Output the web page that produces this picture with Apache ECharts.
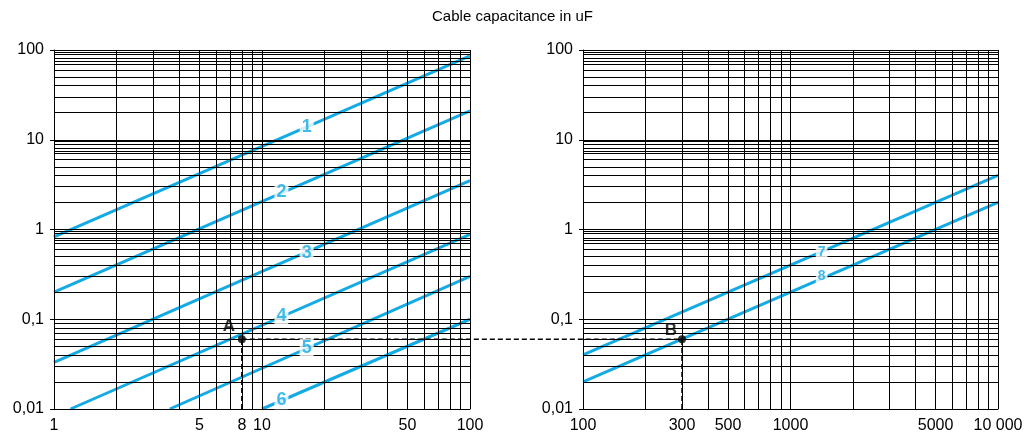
<!DOCTYPE html>
<html><head><meta charset="utf-8">
<script src="https://cdn.jsdelivr.net/npm/echarts@6/dist/echarts.min.js"></script>
<style>html,body{margin:0;padding:0;background:#fff}#c{width:1025px;height:436px}</style>
</head><body><div id="c"></div>
<script>
// ---------- data ----------
const chartTitle = 'Cable capacitance in uF';
const yTickValues = [0.01, 0.1, 1, 10, 100];
const yTickLabels = ['0,01', '0,1', '1', '10', '100'];
const leftXTickValues = [1, 5, 8, 10, 50, 100];
const leftXTickLabels = ['1', '5', '8', '10', '50', '100'];
const rightXTickValues = [100, 300, 500, 1000, 5000, 10000];
const rightXTickLabels = ['100', '300', '500', '1000', '5000', '10 000'];
const leftXGrid = [1, 2, 3, 4, 5, 6, 7, 8, 9, 10, 20, 30, 40, 50, 60, 70, 80, 90, 100];
const rightXGrid = [100, 200, 300, 400, 500, 600, 700, 800, 900, 1000, 2000, 3000, 4000, 5000, 6000, 7000, 8000, 9000, 10000];
const yGrid = [
  0.01, 0.02, 0.03, 0.04, 0.05, 0.06, 0.07, 0.075, 0.08, 0.09, 0.095,
  0.1, 0.2, 0.3, 0.4, 0.5, 0.6, 0.7, 0.75, 0.8, 0.9, 0.95,
  1, 2, 3, 4, 5, 6, 7, 7.5, 8, 9, 9.5,
  10, 20, 30, 40, 50, 60, 70, 75, 80, 90, 95, 100
];
// curves (cable length vs capacitance), endpoints
const curve1 = [[1, 0.83], [100, 86]];
const curve2 = [[1, 0.2], [100, 21]];
const curve3 = [[1, 0.033], [100, 3.5]];
const curve4 = [[1.2, 0.01], [100, 0.88]];
const curve5 = [[3.6, 0.01], [100, 0.3]];
const curve6 = [[10, 0.01], [100, 0.1]];
const curve7 = [[100, 0.04], [10000, 4]];
const curve8 = [[100, 0.02], [10000, 2]];
const leftCurveNames = ['1', '2', '3', '4', '5', '6'];
const rightCurveNames = ['7', '8'];
const leftCurveLabelAt = [[16.4, 14], [12.4, 2.6], [16.4, 0.55], [12.4, 0.11], [16.4, 0.048], [12.4, 0.0125]];
const rightCurveLabelAt = [[1413, 0.565], [1413, 0.3]];
const pointA = [8, 0.06];
const pointB = [300, 0.06];
const pointNames = ['A', 'B'];

// ---------- styling ----------
const FONT = '"Liberation Sans", Arial, sans-serif';
const BLUE = '#14AAE4';
const GRIDC = '#000';

function fmtY(v) {
  for (let i = 0; i < yTickValues.length; i++) {
    if (Math.abs(Math.log10(v) - Math.log10(yTickValues[i])) < 1e-6) return yTickLabels[i];
  }
  return '';
}

function gridMarkLine(xGrid, tickVals, tickLabels) {
  const data = [];
  xGrid.forEach(v => {
    const idx = tickVals.indexOf(v);
    data.push({
      xAxis: v,
      label: idx >= 0 ? {
        show: true, position: 'start', distance: 9, formatter: tickLabels[idx],
        color: '#000', fontSize: 16, fontFamily: FONT
      } : { show: false }
    });
  });
  yGrid.forEach(v => data.push({ yAxis: v, label: { show: false } }));
  return {
    silent: true, symbol: ['none', 'none'], animation: false,
    lineStyle: { color: GRIDC, width: 1, type: 'solid' },
    label: { show: false },
    emphasis: { disabled: true },
    data: data
  };
}

function xAxisCfg(gi, min, max) {
  return {
    type: 'log', logBase: 10, gridIndex: gi, min: min, max: max,
    axisLine: { show: true, lineStyle: { color: '#000', width: 1 } },
    axisTick: { show: false }, axisLabel: { show: false }, splitLine: { show: false }
  };
}
function yAxisCfg(gi) {
  return {
    type: 'log', logBase: 10, gridIndex: gi, min: 0.01, max: 100,
    axisLine: { show: true, lineStyle: { color: '#000', width: 1 } },
    axisTick: { show: true, length: 4, lineStyle: { color: '#000' } },
    axisLabel: { show: true, formatter: fmtY, color: '#000', fontSize: 16, fontFamily: FONT, margin: 10 },
    splitLine: { show: false }
  };
}
function curveSeries(data, gi) {
  return {
    type: 'line', xAxisIndex: gi, yAxisIndex: gi, data: data, symbol: 'none', z: 3,
    lineStyle: { color: BLUE, width: 3 }, silent: true
  };
}
function dashSeries(pt, gi) {
  return {
    type: 'line', xAxisIndex: gi, yAxisIndex: gi, data: [[pt[0], yTickValues[0]], pt], symbol: 'none', z: 4,
    lineStyle: { color: '#000', width: 1.5, type: [5, 3] }, silent: true
  };
}
function labelSeries(pos, names, gi, size) {
  return {
    type: 'scatter', xAxisIndex: gi, yAxisIndex: gi, symbolSize: 0, z: 6, silent: true,
    data: pos.map((p, i) => ({ value: p, name: names[i] })),
    label: {
      show: true, position: 'inside', formatter: p => p.name,
      color: BLUE, fontWeight: 'bold', fontSize: size, fontFamily: FONT,
      backgroundColor: '#fff', padding: [0, 2], lineHeight: size
    }
  };
}
function pointSeries(pt, name, gi, offset) {
  return {
    type: 'scatter', xAxisIndex: gi, yAxisIndex: gi, symbolSize: 8, z: 7, silent: true,
    itemStyle: { color: '#000' },
    data: [{ value: pt, name: name }],
    label: {
      show: true, position: 'top', offset: offset, formatter: p => p.name,
      color: '#000', fontWeight: 'bold', fontSize: 17, fontFamily: FONT
    }
  };
}

const chart = echarts.init(document.getElementById('c'), null, { renderer: 'canvas' });
const option = {
  animation: false,
  backgroundColor: '#fff',
  title: {
    text: chartTitle, left: 'center', top: 4,
    textStyle: { fontSize: 15, fontWeight: 'normal', color: '#000', fontFamily: FONT }
  },
  grid: [
    { left: 54, top: 50, width: 416, height: 359 },
    { left: 583, top: 50, width: 415, height: 359 }
  ],
  xAxis: [xAxisCfg(0, 1, 100), xAxisCfg(1, 100, 10000)],
  yAxis: [yAxisCfg(0), yAxisCfg(1)],
  series: [
    { type: 'line', xAxisIndex: 0, yAxisIndex: 0, data: [], z: 1, markLine: gridMarkLine(leftXGrid, leftXTickValues, leftXTickLabels) },
    { type: 'line', xAxisIndex: 1, yAxisIndex: 1, data: [], z: 1, markLine: gridMarkLine(rightXGrid, rightXTickValues, rightXTickLabels) },
    curveSeries(curve1, 0), curveSeries(curve2, 0), curveSeries(curve3, 0),
    curveSeries(curve4, 0), curveSeries(curve5, 0), curveSeries(curve6, 0),
    curveSeries(curve7, 1), curveSeries(curve8, 1),
    dashSeries(pointA, 0), dashSeries(pointB, 1),
    labelSeries(leftCurveLabelAt, leftCurveNames, 0, 18),
    labelSeries(rightCurveLabelAt, rightCurveNames, 1, 14),
    pointSeries(pointA, pointNames[0], 0, [-13, 5]),
    pointSeries(pointB, pointNames[1], 1, [-11, 9])
  ]
};
chart.setOption(option);
const pa = chart.convertToPixel({ gridIndex: 0 }, pointA);
const pb = chart.convertToPixel({ gridIndex: 1 }, pointB);
chart.setOption({
  graphic: [{
    type: 'line', z: 5, silent: true,
    shape: { x1: pa[0], y1: pa[1], x2: pb[0], y2: pb[1] },
    style: { stroke: '#000', lineWidth: 1.5, lineDash: [5, 3] }
  }]
});
</script>
</body></html>
